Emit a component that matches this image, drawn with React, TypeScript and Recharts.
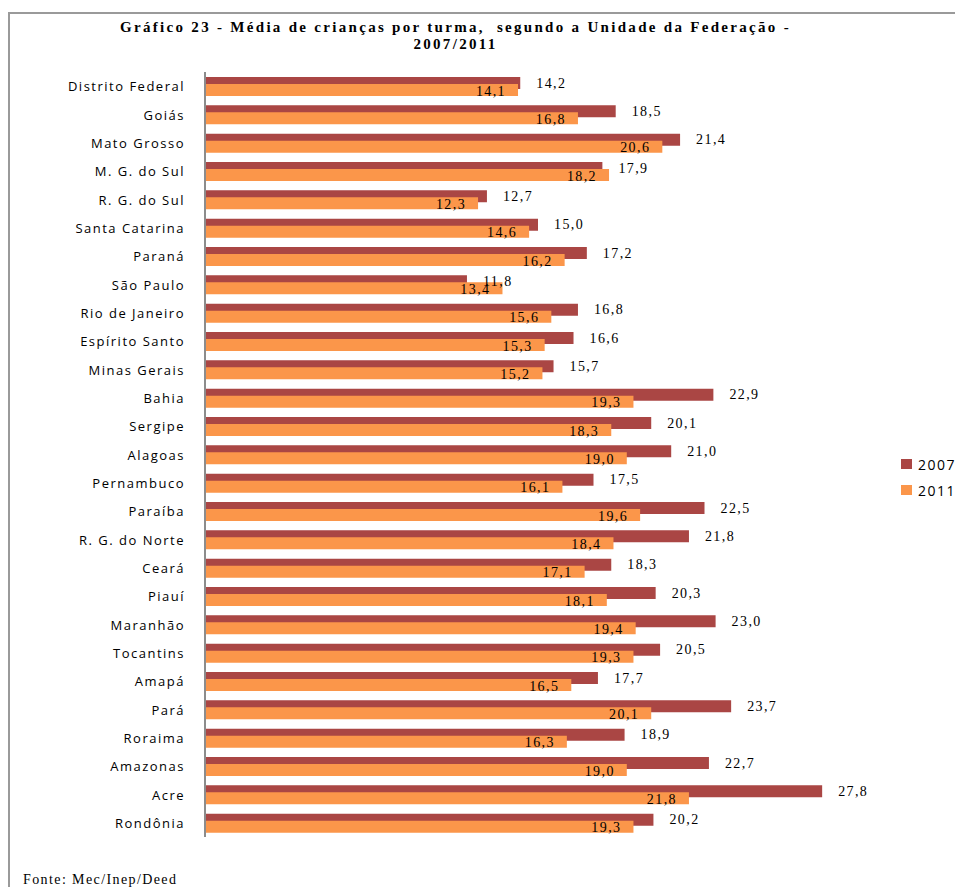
import React from "react";
import { BarChart, Bar, XAxis, YAxis, LabelList, Legend } from "recharts";

const states = [
  "Distrito Federal", "Goiás", "Mato Grosso", "M. G. do Sul", "R. G. do Sul",
  "Santa Catarina", "Paraná", "São Paulo", "Rio de Janeiro", "Espírito Santo",
  "Minas Gerais", "Bahia", "Sergipe", "Alagoas", "Pernambuco", "Paraíba",
  "R. G. do Norte", "Ceará", "Piauí", "Maranhão", "Tocantins", "Amapá",
  "Pará", "Roraima", "Amazonas", "Acre", "Rondônia",
];
const values2007 = [
  14.2, 18.5, 21.4, 17.9, 12.7, 15.0, 17.2, 11.8, 16.8, 16.6, 15.7, 22.9, 20.1,
  21.0, 17.5, 22.5, 21.8, 18.3, 20.3, 23.0, 20.5, 17.7, 23.7, 18.9, 22.7, 27.8, 20.2,
];
const values2011 = [
  14.1, 16.8, 20.6, 18.2, 12.3, 14.6, 16.2, 13.4, 15.6, 15.3, 15.2, 19.3, 18.3,
  19.0, 16.1, 19.6, 18.4, 17.1, 18.1, 19.4, 19.3, 16.5, 20.1, 16.3, 19.0, 21.8, 19.3,
];
const seriesNames = ["2007", "2011"];
const titleLines = [
  "Gráfico 23 - Média de crianças por turma,  segundo a Unidade da Federação -",
  "2007/2011",
];
const sourceText = "Fonte: Mec/Inep/Deed";

const data = states.map((name, i) => ({
  name,
  v2007: values2007[i],
  v2011: values2011[i],
}));

const RED = "#AA4644";
const ORANGE = "#FB964A";
const fmt = (v: number) => v.toFixed(1).replace(".", ",");

const Label2007 = (props: any) => {
  const { x, y, width, height, value } = props;
  return (
    <text
      x={x + width + 16}
      y={y + height / 2}
      dominantBaseline="central"
      fontFamily="'Liberation Serif', serif"
      fontSize={14}
      letterSpacing={1.4}
      fill="#000"
    >
      {fmt(value)}
    </text>
  );
};

const Label2011 = (props: any) => {
  const { x, y, width, height, value } = props;
  return (
    <text
      x={x + width - 12}
      y={y + height / 2 + 1}
      textAnchor="end"
      dominantBaseline="central"
      fontFamily="'Liberation Serif', serif"
      fontSize={14}
      letterSpacing={1.4}
      fill="#000"
    >
      {fmt(value)}
    </text>
  );
};

const CatTick = (props: any) => {
  const { x, y, payload } = props;
  return (
    <text
      x={x}
      y={y}
      textAnchor="end"
      dominantBaseline="central"
      fontFamily="'Open Sans', sans-serif"
      fontSize={13}
      letterSpacing={1.5}
      fill="#000"
    >
      {payload.value}
    </text>
  );
};

const LegendContent = (props: any) => {
  const { payload } = props;
  return (
    <div>
      {(payload || []).map((p: any, i: number) => (
        <div
          key={i}
          style={{
            display: "flex",
            alignItems: "center",
            height: 26,
            fontFamily: "'Open Sans', sans-serif",
            fontSize: 14,
            letterSpacing: 1.5,
            color: "#000",
          }}
        >
          <span
            style={{
              display: "inline-block",
              width: 11,
              height: 10,
              background: p.color,
              marginRight: 6,
            }}
          />
          {p.value}
        </div>
      ))}
    </div>
  );
};

export default function App() {
  return (
    <div style={{ position: "relative", width: 955, height: 879, overflow: "hidden" }}>
      <div
        style={{
          position: "absolute",
          left: 0,
          top: 4,
          width: 955,
          height: 900,
          borderLeft: "2px solid #9a9a9a",
          borderTop: "2px solid #9a9a9a",
          boxSizing: "border-box",
        }}
      />
      <div
        style={{
          position: "absolute",
          left: 0,
          top: 11,
          width: 895,
          textAlign: "center",
          fontFamily: "'Liberation Serif', serif",
          fontWeight: "bold",
          fontSize: 15,
          letterSpacing: 2.3,
          lineHeight: "17px",
          color: "#000",
        }}
      >
        {titleLines.map((t, i) => (
          <div key={i} style={{ whiteSpace: "pre" }}>{t}</div>
        ))}
      </div>
      <div style={{ position: "absolute", left: 0, top: 0 }}>
        <BarChart
          width={955}
          height={879}
          data={data}
          layout="vertical"
          margin={{ top: 64, right: 22, bottom: 50, left: 0 }}
          barGap={-5}
        >
          <XAxis type="number" domain={[0, 30]} hide />
          <YAxis
            type="category"
            dataKey="name"
            width={197}
            axisLine={{ stroke: "#8c8c8c", strokeWidth: 2 }}
            tickLine={false}
            tickSize={0}
            tickMargin={20}
            tick={<CatTick />}
            interval={0}
          />
          <Legend
            layout="vertical"
            align="right"
            verticalAlign="middle"
            content={<LegendContent />}
            wrapperStyle={{ position: "absolute", left: 893, top: 443, width: 70 }}
          />
          <Bar dataKey="v2007" name={seriesNames[0]} fill={RED} barSize={12} isAnimationActive={false}>
            <LabelList dataKey="v2007" content={<Label2007 />} />
          </Bar>
          <Bar dataKey="v2011" name={seriesNames[1]} fill={ORANGE} barSize={12} isAnimationActive={false}>
            <LabelList dataKey="v2011" content={<Label2011 />} />
          </Bar>
        </BarChart>
      </div>
      <div
        style={{
          position: "absolute",
          left: 15,
          top: 864,
          fontFamily: "'Liberation Serif', serif",
          fontSize: 14,
          letterSpacing: 1.4,
          color: "#000",
        }}
      >
        {sourceText}
      </div>
    </div>
  );
}
